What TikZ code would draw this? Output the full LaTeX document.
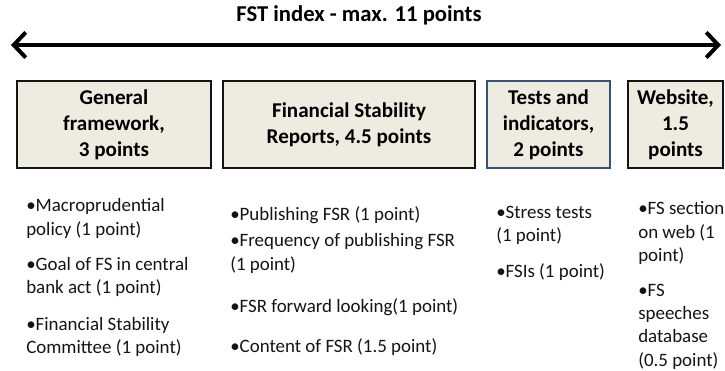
\documentclass[tikz,border=0pt]{standalone}
\usepackage{fontspec}
\setmainfont{Carlito}
\usetikzlibrary{arrows.meta}
\definecolor{categoryFill}{HTML}{EEECE1}
\definecolor{categoryLine}{HTML}{141414}
\definecolor{testsLine}{HTML}{3B5170}
\colorlet{listText}{black!92}
\tikzset{
  category/.style={draw=categoryLine, line width=1.5pt, fill=categoryFill,
    minimum width=#1, minimum height=65.25pt, inner sep=0pt,
    align=center, font=\fontsize{15.8}{19.5}\selectfont\bfseries},
  criterion/.style={anchor=north west, align=left, inner sep=0pt,
    text=listText, font=\fontsize{14.2}{17.5}\selectfont}
}
\begin{document}
\begin{tikzpicture}[
  x=0.75pt, y=-0.75pt,
  index arrow/.style={line width=3pt,
    arrows={Straight Barb[length=9pt,width=19pt]-Straight Barb[length=9pt,width=19pt]}}
]
\useasboundingbox (0,0) rectangle (725,371);
% heading and scale
\node[font=\fontsize{17}{20}\selectfont\bfseries] (indexTitle) at (359,15) {FST index - max. 11 points};
\coordinate (scaleLeft) at (11,45);
\coordinate (scaleRight) at (721,45);
\draw[index arrow] (scaleLeft) -- (scaleRight);
% the four parts of the index
\node[category=145.5pt] (general) at (114,124.5) {General\\framework,\\3 points};
\node[category=189pt] (reports) at (349,124.5) {Financial Stability\\Reports, 4.5 points};
\node[category=92.25pt, draw=testsLine, line width=1.1pt] (tests) at (548.5,124.5) {Tests and\\indicators,\\2 points};
\node[category=71.25pt] (website) at (675.5,124.5) {Website,\\1.5\\points};
% criteria under each part
\node[criterion] (macroItem) at (26,198.5) {•Macroprudential\\policy (1 point)};
\node[criterion] (goalItem) at (26,257) {•Goal of FS in central\\bank act (1 point)};
\node[criterion] (committeeItem) at (26,317) {•Financial Stability\\Committee (1 point)};
\node[criterion] (publishItem) at (230,206.5) {•Publishing FSR (1 point)};
\node[criterion] (frequencyItem) at (230,233.5) {•Frequency of publishing FSR\\(1 point)};
\node[criterion] (forwardItem) at (230,298.5) {•FSR forward looking(1 point)};
\node[criterion] (contentItem) at (230,338.5) {•Content of FSR (1.5 point)};
\node[criterion] (stressItem) at (496,205.5) {•Stress tests\\(1 point)};
\node[criterion] (fsiItem) at (496,263.5) {•FSIs (1 point)};
\node[criterion] (webItem) at (638,201.5) {•FS section\\on web (1\\point)};
\node[criterion] (speechItem) at (638,283.5) {•FS\\speeches\\database\\(0.5 point)};
\end{tikzpicture}
\end{document}
